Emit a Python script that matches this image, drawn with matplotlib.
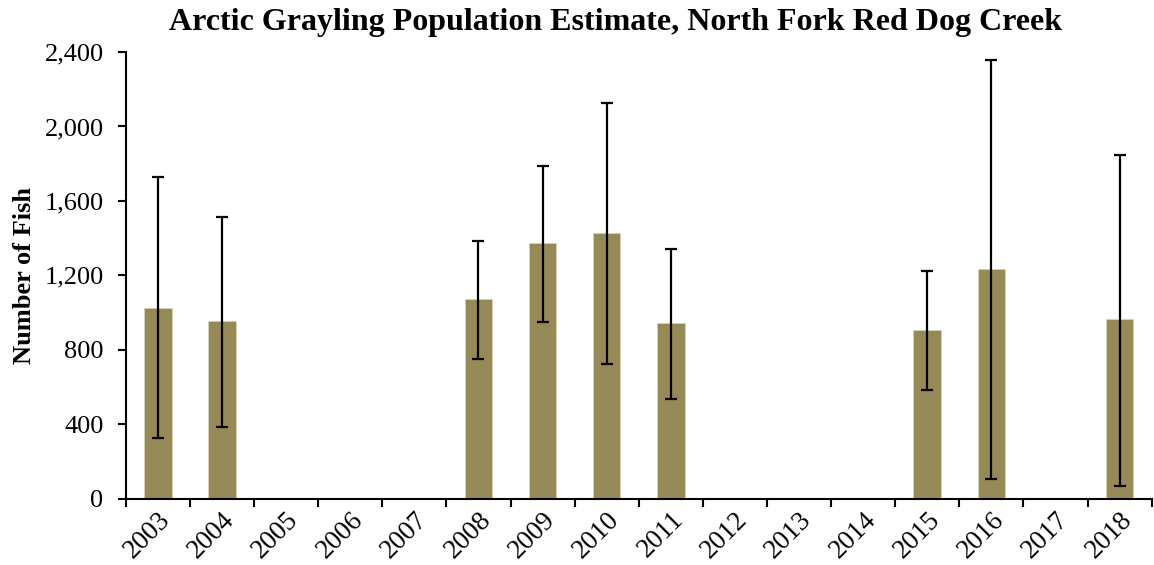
import numpy as np
import matplotlib.pyplot as plt
from matplotlib.ticker import FuncFormatter

# Population estimates with 95% confidence limits (no survey = nan)
years = [2003, 2004, 2005, 2006, 2007, 2008, 2009, 2010,
         2011, 2012, 2013, 2014, 2015, 2016, 2017, 2018]
estimate = [1025, 956, np.nan, np.nan, np.nan, 1072, 1373, 1427,
            947, np.nan, np.nan, np.nan, 907, 1233, np.nan, 965]
lower_ci = [327, 387, np.nan, np.nan, np.nan, 750, 949, 723,
            537, np.nan, np.nan, np.nan, 584, 106, np.nan, 71]
upper_ci = [1729, 1514, np.nan, np.nan, np.nan, 1385, 1786, 2125,
            1344, np.nan, np.nan, np.nan, 1226, 2355, np.nan, 1849]

plt.rcParams['font.family'] = ['Liberation Serif', 'DejaVu Serif']

est = np.array(estimate, dtype=float)
err = [est - np.array(lower_ci), np.array(upper_ci) - est]
x = np.arange(len(years))

fig = plt.figure(figsize=(11.54, 5.65), dpi=100)
ax = fig.add_axes([0.109, 0.117, 0.889, 0.791])

ax.bar(x, est, width=0.43, color='#958a55', edgecolor='#d9d4b8', linewidth=0.6,
       yerr=err, capsize=4.5,
       error_kw=dict(ecolor='black', elinewidth=1.6, capthick=1.6))

ax.set_xlim(-0.5, len(years) - 0.5)
ax.set_ylim(0, 2400)
ax.set_yticks(range(0, 2401, 400))
ax.yaxis.set_major_formatter(FuncFormatter(lambda v, p: f"{int(v):,}"))

# category labels centred, tick marks on category boundaries (Excel style)
ax.set_xticks(x)
ax.set_xticklabels([str(y) for y in years], rotation=45, ha='right',
                   rotation_mode='anchor', fontsize=19.5)
ax.tick_params(axis='x', which='major', length=0, pad=6)
ax.set_xticks(np.arange(-0.5, len(years)), minor=True)
ax.tick_params(axis='x', which='minor', length=6, width=1.5, direction='out')
ax.tick_params(axis='y', labelsize=19, length=6, width=1.5, direction='out', pad=10)

for s in ['top', 'right']:
    ax.spines[s].set_visible(False)
for s in ['left', 'bottom']:
    ax.spines[s].set_linewidth(1.5)

ax.set_ylabel("Number of Fish", fontsize=19, fontweight='bold')
ax.yaxis.set_label_coords(-0.0877, 0.5)
fig.text(0.533, 0.961, "Arctic Grayling Population Estimate, North Fork Red Dog Creek",
         fontsize=23, fontweight='bold', ha='center', va='center')

fig.savefig("out.png", dpi=100)
